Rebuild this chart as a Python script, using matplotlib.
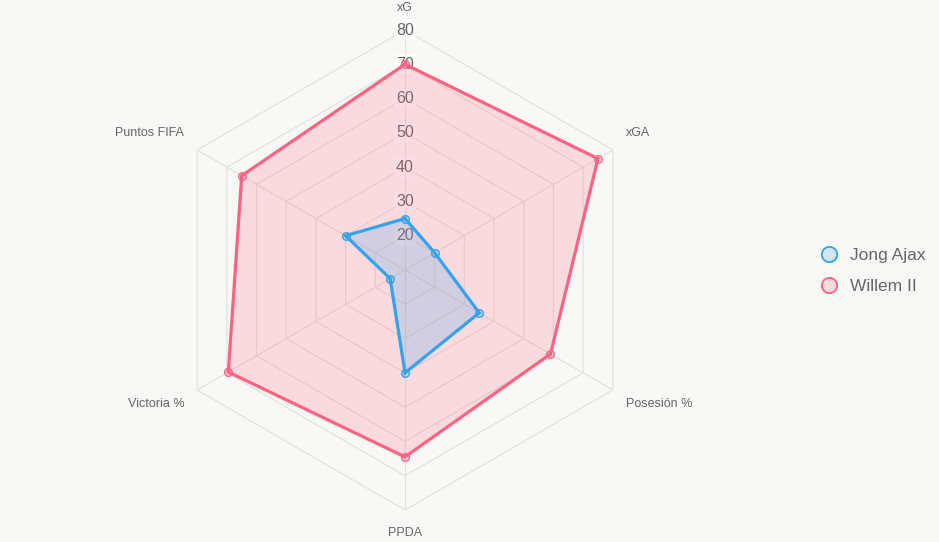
import numpy as np
import matplotlib
matplotlib.use("Agg")
from matplotlib import pyplot as plt
from matplotlib.lines import Line2D

plt.rcParams['font.family'] = ['Liberation Sans', 'DejaVu Sans']

# datos
categories = ['xG', 'xGA', 'Posesión %', 'PPDA', 'Victoria %', 'Puntos FIFA']
jong_ajax = [25, 20, 35, 40, 15, 30]
willem_ii = [70, 75, 59, 64.5, 69.5, 65]
ticks = [20, 30, 40, 50, 60, 70, 80]
r_min, r_max = 10, 80

bg = '#f8f8f6'
grid_col = '#e0e0de'
txt_col = '#666666'
blue = (54/255, 162/255, 235/255)
pink = (255/255, 99/255, 132/255)

fig = plt.figure(figsize=(9.39, 5.42), dpi=100)
fig.patch.set_facecolor(bg)
ax = fig.add_axes([165/939, 32/542, 480/939, 480/542], projection='polar')
ax.set_facecolor('none')
ax.set_theta_offset(np.pi / 2)
ax.set_theta_direction(-1)
ax.set_ylim(r_min, r_max)
ax.grid(False)
ax.spines['polar'].set_visible(False)
ax.set_xticks([])
ax.set_yticks([])

n = len(categories)
angles = np.arange(n) * 2 * np.pi / n
closed = np.append(angles, angles[0])

# rejilla hexagonal
for t in ticks:
    ax.plot(closed, [t] * (n + 1), color=grid_col, lw=0.8, zorder=1)
for a in angles:
    ax.plot([a, a], [r_min, r_max], color=grid_col, lw=0.8, zorder=1)

# etiquetas de escala
for t in ticks:
    ax.text(0, t, str(t), ha='center', va='center', fontsize=11.5, color=txt_col,
            zorder=2, bbox=dict(boxstyle='square,pad=0.15', fc=(1, 1, 1, 0.6), ec='none'))

# etiquetas de ejes
offsets = [(0, 22, 'center'), (13, 17, 'left'), (13, -14, 'left'),
           (0, -23, 'center'), (-13, -14, 'right'), (-13, 17, 'right')]
for a, lab, (dx, dy, ha) in zip(angles, categories, offsets):
    ax.annotate(lab, xy=(a, r_max), xytext=(dx, dy), textcoords='offset pixels',
                ha=ha, va='center', fontsize=9, color=txt_col, annotation_clip=False)

# series
def draw(vals, col, z):
    v = np.append(vals, vals[0])
    ax.fill(closed, v, color=col + (0.2,), lw=0, zorder=z)
    ax.plot(closed, v, color=col, lw=2.3, zorder=z + 0.1, solid_joinstyle='miter')
    ax.plot(angles, vals, 'o', ms=5.5, mfc=col + (0.2,), mec=col, mew=1, zorder=z + 0.2)

draw(willem_ii, pink, 3)
draw(jong_ajax, blue, 4)

handles = [Line2D([], [], ls='none', marker='o', ms=11, mfc=blue + (0.2,), mec=blue, mew=1.3),
           Line2D([], [], ls='none', marker='o', ms=11, mfc=pink + (0.2,), mec=pink, mew=1.3)]
leg = fig.legend(handles, ['Jong Ajax', 'Willem II'], loc='center left',
                 bbox_to_anchor=(803/939, 1 - 271/542), frameon=False, fontsize=12.5,
                 handletextpad=0.6, labelspacing=0.9, handlelength=1.2)
for t in leg.get_texts():
    t.set_color(txt_col)

fig.savefig('out.png', dpi=100, facecolor=bg)
